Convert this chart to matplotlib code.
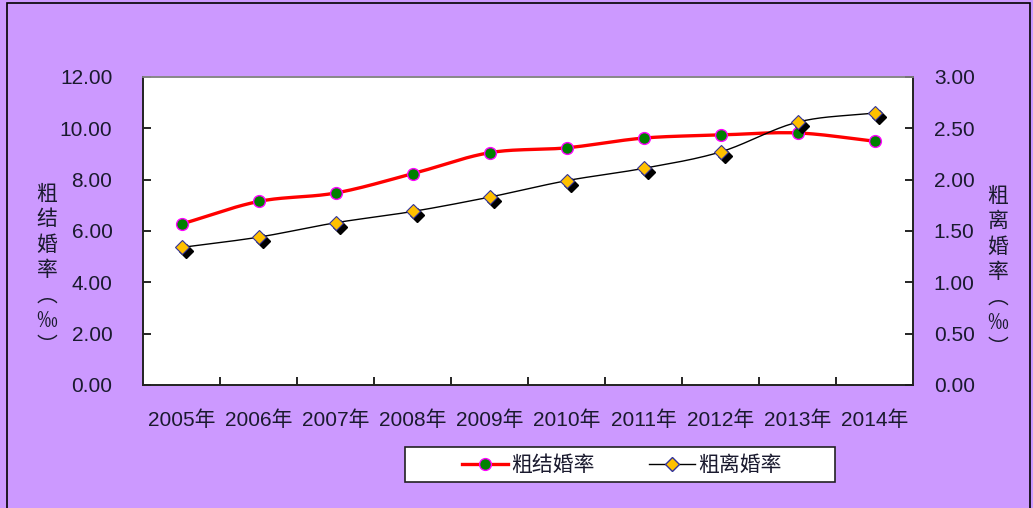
import numpy as np
import matplotlib
matplotlib.use("Agg")
import matplotlib.pyplot as plt
from matplotlib.lines import Line2D
from matplotlib.patches import Rectangle
from matplotlib.transforms import offset_copy

years = ["2005年", "2006年", "2007年", "2008年", "2009年",
         "2010年", "2011年", "2012年", "2013年", "2014年"]
marriage = [6.27, 7.15, 7.48, 8.23, 9.05, 9.24, 9.62, 9.74, 9.82, 9.50]
divorce = [1.34, 1.44, 1.58, 1.69, 1.83, 1.99, 2.11, 2.27, 2.56, 2.65]
left_ticks = [0, 2, 4, 6, 8, 10, 12]
right_ticks = [0, 0.5, 1.0, 1.5, 2.0, 2.5, 3.0]
label_left = "粗结婚率（‰）"
label_right = "粗离婚率（‰）"
legend_names = ["粗结婚率", "粗离婚率"]

FONT = ["Liberation Sans", "Noto Sans CJK SC", "DejaVu Sans"]
CJK = ["Noto Sans CJK SC", "DejaVu Sans"]
plt.rcParams["font.family"] = FONT

PURPLE = "#CC99FF"
TXT = "#1a1a2e"


def smooth(x, y, n=20):
    # Catmull-Rom style smoothing of the drawn line (rendering only)
    x = np.asarray(x, float); y = np.asarray(y, float)
    px = np.concatenate([[2 * x[0] - x[1]], x, [2 * x[-1] - x[-2]]])
    py = np.concatenate([[2 * y[0] - y[1]], y, [2 * y[-1] - y[-2]]])
    xs, ys = [], []
    for i in range(1, len(px) - 2):
        t = np.linspace(0, 1, n, endpoint=False)
        t2, t3 = t * t, t * t * t
        for arr, out in ((px, xs), (py, ys)):
            p0, p1, p2, p3 = arr[i - 1], arr[i], arr[i + 1], arr[i + 2]
            out.extend(0.5 * ((2 * p1) + (-p0 + p2) * t
                              + (2 * p0 - 5 * p1 + 4 * p2 - p3) * t2
                              + (-p0 + 3 * p1 - 3 * p2 + p3) * t3))
    xs.append(x[-1]); ys.append(y[-1])
    return np.array(xs), np.array(ys)


fig = plt.figure(figsize=(10.33, 5.08), dpi=100)
fig.patch.set_facecolor(PURPLE)

# outer border
fig.add_artist(Rectangle((7 / 1033, -0.01), 1 - 10 / 1033, 1.01 - 3 / 508,
                         transform=fig.transFigure, fill=False,
                         edgecolor="black", linewidth=1.2))

ax = fig.add_axes([143 / 1033, 1 - 385 / 508, 770 / 1033, 308 / 508])
ax2 = ax.twinx()
ax.set_facecolor("white")

x = np.arange(len(years))

# marriage line (left axis)
sx, sy = smooth(x, marriage)
ax.plot(sx, sy, color="red", linewidth=2.4, zorder=3)
ax.plot(x, marriage, linestyle="none", marker="o", markersize=8.5,
        markerfacecolor="#008000", markeredgecolor="#FF00FF",
        markeredgewidth=1.0, zorder=4)

# divorce line (right axis)
sx2, sy2 = smooth(x, divorce)
ax2.plot(sx2, sy2, color="black", linewidth=1.0, zorder=3)
shadow = offset_copy(ax2.transData, fig=fig, x=4, y=-4, units="dots")
ax2.plot(x, divorce, linestyle="none", marker="D", markersize=7,
         markerfacecolor="black", markeredgecolor="black",
         transform=shadow, zorder=4)
ax2.plot(x, divorce, linestyle="none", marker="D", markersize=7,
         markerfacecolor="#FFC000", markeredgecolor="#333399",
         markeredgewidth=0.8, zorder=5)

ax.set_xlim(-0.5, len(years) - 0.5)
ax.set_ylim(0, 12)
ax2.set_ylim(0, 3)

ax.set_yticks(left_ticks)
ax.set_yticklabels([f"{v:.2f}" for v in left_ticks])
ax2.set_yticks(right_ticks)
ax2.set_yticklabels([f"{v:.2f}" for v in right_ticks])

ax.set_xticks(x)
ax.set_xticklabels(years)
ax.set_xticks(np.arange(0.5, len(years) - 0.5, 1), minor=True)
ax.tick_params(axis="x", which="major", length=0, pad=18,
               labelsize=15, labelcolor=TXT)
ax.tick_params(axis="x", which="minor", direction="in", length=6, width=1.2)
ax.tick_params(axis="y", direction="in", length=6, width=1.2,
               labelsize=15, labelcolor=TXT, pad=22)
ax2.tick_params(axis="y", direction="in", length=6, width=1.2,
                labelsize=15, labelcolor=TXT, pad=15)
for lab in ax.get_yticklabels():
    lab.set_horizontalalignment("right")

for a in (ax, ax2):
    for s in a.spines.values():
        s.set_linewidth(1.2)
        s.set_color("#222222")
ax.spines["top"].set_color("#888888")
ax2.spines["top"].set_color("#888888")

# axis titles (vertical stacked)
def vert(s):
    return "\n".join(s.replace("（", "︵").replace("）", "︶"))

fig.text(47 / 1033, 1 - 270 / 508, vert(label_left), ha="center",
         va="center", fontsize=15, family=CJK, color=TXT, linespacing=1.2)
fig.text(998 / 1033, 1 - 272 / 508, vert(label_right), ha="center",
         va="center", fontsize=15, family=CJK, color=TXT, linespacing=1.2)

# legend
fig.add_artist(Rectangle((405 / 1033, 1 - 482 / 508), 430 / 1033, 35 / 508,
                         transform=fig.transFigure, facecolor="white",
                         edgecolor="#222222", linewidth=1.2, zorder=1))
h1 = Line2D([], [], color="red", linewidth=2.4, marker="o", markersize=8.5,
            markerfacecolor="#008000", markeredgecolor="#FF00FF")
h2 = Line2D([], [], color="black", linewidth=1.0, marker="D", markersize=7,
            markerfacecolor="#FFC000", markeredgecolor="#333399")
leg = fig.legend([h1, h2], legend_names, loc="center",
                 bbox_to_anchor=(622 / 1033, 1 - 465 / 508), ncol=2,
                 frameon=False, prop={"family": CJK, "size": 15},
                 handlelength=2.2, handletextpad=0.15, columnspacing=2.6,
                 borderpad=0)
leg.set_zorder(2)
for t in leg.get_texts():
    t.set_color(TXT)

fig.savefig("out.png", dpi=100, facecolor=PURPLE)
